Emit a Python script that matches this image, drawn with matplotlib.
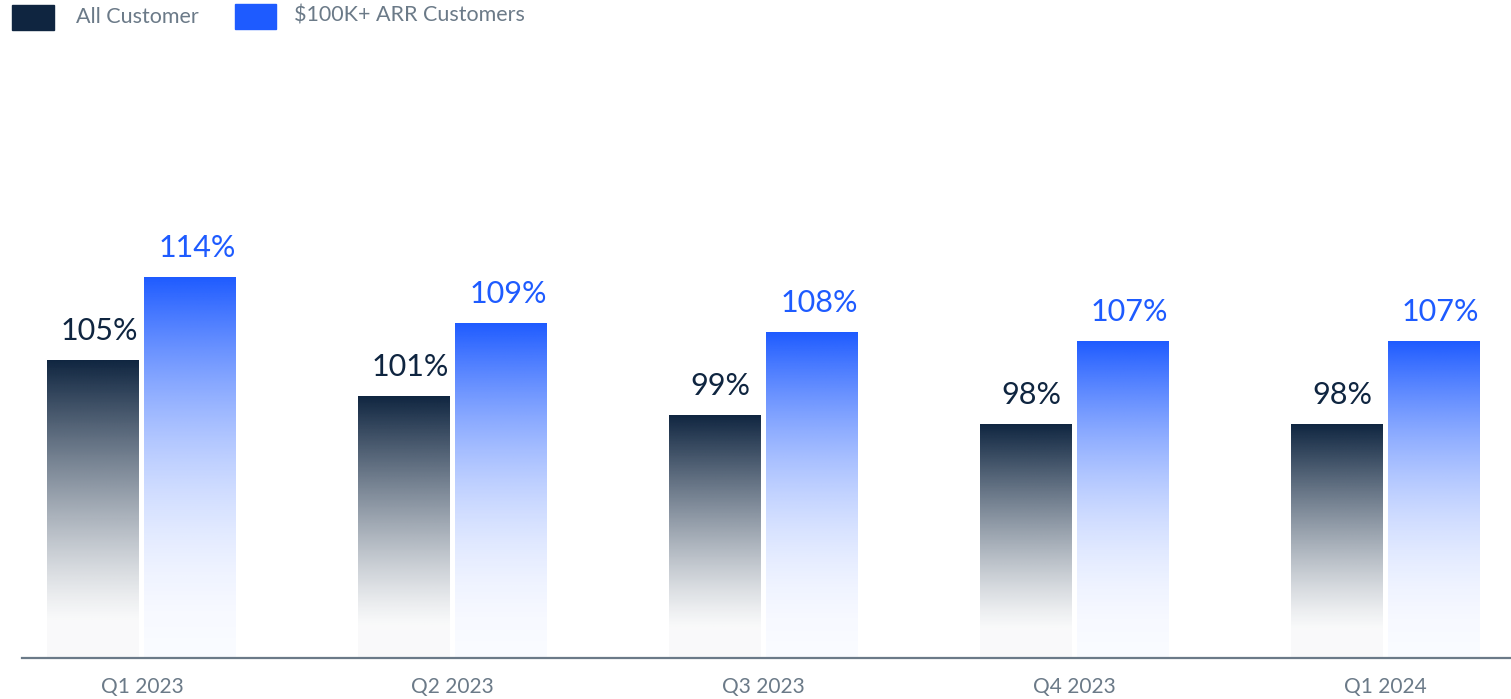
import matplotlib.pyplot as plt
import numpy as np
from matplotlib.patches import Rectangle

quarters = ['Q1 2023', 'Q2 2023', 'Q3 2023', 'Q4 2023', 'Q1 2024']
all_customer = [105, 101, 99, 98, 98]
arr_customers = [114, 109, 108, 107, 107]
series_names = ['All Customer', '$100K+ ARR Customers']

dark = '#0f2540'
blue = '#1e5bff'
gray = '#6b7a88'

plt.rcParams['font.family'] = ['Lato', 'DejaVu Sans']

fig = plt.figure(figsize=(15.11, 6.99), dpi=100)
ax = fig.add_axes([22 / 1511, 41 / 699, 1489 / 1511, 618 / 699])

x = np.arange(len(quarters))
width = 0.296
offset = 0.156
base = 72.5


def grad_bar(xc, val, color, alpha_fn):
    rgb = np.array(plt.matplotlib.colors.to_rgb(color))
    n = 256
    t = np.linspace(0, 1, n)  # 0 top -> 1 bottom
    img = np.zeros((n, 1, 4))
    img[:, 0, :3] = rgb
    img[:, 0, 3] = alpha_fn(t)
    ax.imshow(img, extent=[xc - width / 2, xc + width / 2, base, val],
              aspect='auto', interpolation='bilinear', zorder=2)


dark_fade = lambda t: 0.025 + 0.975 * np.clip(1 - t / 0.88, 0, 1) ** 1.2
blue_fade = lambda t: 0.025 + 0.975 * (1 - t) ** 2

for i in range(len(quarters)):
    grad_bar(x[i] - offset, all_customer[i], dark, dark_fade)
    grad_bar(x[i] + offset, arr_customers[i], blue, blue_fade)
    ax.annotate(f'{all_customer[i]}%', (x[i] - offset, all_customer[i]),
                xytext=(4, 11), textcoords='offset points', ha='center', va='bottom',
                fontsize=22, color=dark)
    ax.annotate(f'{arr_customers[i]}%', (x[i] + offset, arr_customers[i]),
                xytext=(5, 11), textcoords='offset points', ha='center', va='bottom',
                fontsize=22, color=blue)

ax.set_xlim(-0.386, 4.405)
ax.set_ylim(base, 139.9)
for s in ['top', 'right', 'left']:
    ax.spines[s].set_visible(False)
ax.spines['bottom'].set_color(gray)
ax.spines['bottom'].set_linewidth(1.6)
ax.set_yticks([])
ax.set_xticks(x)
ax.set_xticklabels(quarters, fontsize=15, color=gray)
ax.tick_params(axis='x', length=0, pad=14)

# legend
fig.add_artist(Rectangle((12 / 1511, 1 - 30 / 699), 42 / 1511, 25 / 699,
                         transform=fig.transFigure, color=dark))
fig.text(76 / 1511, 1 - 17 / 699, series_names[0], fontsize=15.5, color=gray, va='center')
fig.add_artist(Rectangle((235 / 1511, 1 - 29 / 699), 41 / 1511, 25 / 699,
                         transform=fig.transFigure, color=blue))
fig.text(294 / 1511, 1 - 15 / 699, series_names[1], fontsize=15.5, color=gray, va='center')

fig.savefig('out.png', dpi=100, facecolor='white')
